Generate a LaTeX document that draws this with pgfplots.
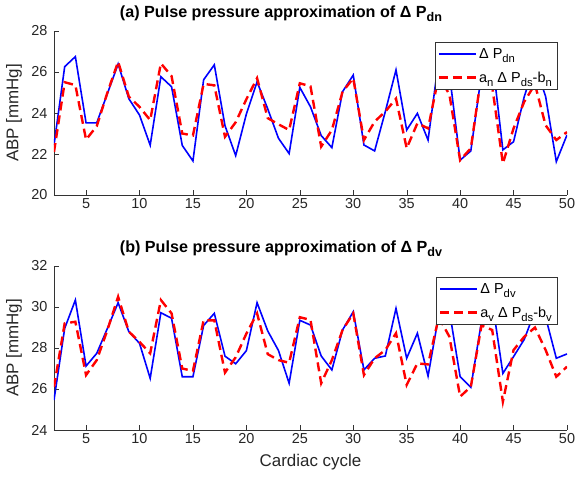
\documentclass[border=0pt]{standalone}
\usepackage{fontspec}
\setmainfont{Liberation Sans}
\usepackage{pgfplots}
\usepackage{pgfplotstable}
\pgfplotsset{compat=1.18}

\newcommand{\sub}[1]{\raisebox{-0.55ex}{\fontsize{0.78em}{1em}\selectfont #1}}

% cycle, measured, approximation
\pgfplotstableread{
n   dn     fit
2   22.43  22.10
3   26.26  25.50
4   26.75  25.36
5   23.52  22.70
6   23.52  23.36
7   24.95  25.00
8   26.39  26.50
9   24.70  24.80
10  23.90  24.30
11  22.43  23.65
12  25.77  26.42
13  25.28  25.80
14  22.42  23.00
15  21.66  22.90
16  25.62  25.42
17  26.35  25.35
18  23.38  22.84
19  21.92  23.55
20  23.95  24.67
21  25.52  25.70
22  24.20  23.75
23  22.77  23.45
24  22.02  23.17
25  25.25  25.45
26  24.30  25.30
27  22.90  22.36
28  22.31  23.17
29  25.04  25.04
30  25.85  25.69
31  22.44  22.68
32  22.15  23.58
33  24.07  24.07
34  26.10  24.70
35  23.17  22.28
36  23.98  23.50
37  22.68  23.25
38  26.60  25.80
39  25.90  24.90
40  21.70  21.70
41  22.15  22.28
42  25.90  25.90
43  26.70  25.30
44  22.20  21.54
45  22.60  23.25
46  24.80  24.55
47  26.40  25.40
48  24.80  23.40
49  21.63  22.68
50  22.93  23.07
}\tabdn

\pgfplotstableread{
n   dv     fit
2   25.46  26.10
3   28.96  29.20
4   30.34  29.28
5   27.12  26.68
6   27.74  27.41
7   28.96  28.88
8   30.21  30.50
9   28.80  28.80
10  28.23  28.30
11  26.52  27.74
12  29.72  30.34
13  29.45  29.69
14  26.60  27.00
15  26.60  26.88
16  29.10  29.35
17  29.69  29.35
18  27.60  26.80
19  27.23  27.55
20  27.87  28.70
21  30.21  29.69
22  28.83  27.70
23  27.88  27.41
24  26.28  27.28
25  29.35  29.50
26  29.12  29.37
27  27.61  26.28
28  26.93  27.41
29  28.88  28.88
30  29.77  29.69
31  26.93  26.68
32  27.50  27.50
33  27.61  27.90
34  29.93  28.72
35  27.50  26.20
36  28.72  27.25
37  26.63  27.20
38  29.60  29.50
39  29.80  28.55
40  26.60  25.63
41  26.08  26.11
42  29.30  29.10
43  30.30  28.88
44  26.76  25.38
45  27.58  27.90
46  28.42  28.55
47  29.80  29.00
48  29.50  27.90
49  27.50  26.60
50  27.71  27.09
}\tabdv

\pgfplotsset{
  abp/.style={
    width=513bp, height=164bp, scale only axis,
    xmin=2, xmax=50, xtick={5,10,...,50},
    axis x line*=bottom, axis y line*=left,
    axis line style={-, black!80},
    tick align=inside, major tick length=5bp,
    tick style={black!80},
    every tick label/.append style={font=\fontsize{14.5}{16}\selectfont, text=black!85},
    yticklabel style={xshift=-3bp},
    /pgf/number format/assume math mode=true,
    ylabel={ABP [mmHg]},
    ylabel style={at={(axis description cs:-0.078,0.5)}, anchor=center, font=\fontsize{17}{19}\selectfont, text=black!85},
    title style={at={(axis description cs:0.4425,1)}, anchor=base, yshift=8bp, font=\bfseries\fontsize{16.2}{18}\selectfont},
    legend style={at={(axis description cs:0.9805,0.933)}, anchor=north east,
      draw=black!80, fill=white, font=\fontsize{14.5}{16}\selectfont,
      inner xsep=3bp, inner ysep=4bp, row sep=8bp},
    legend cell align=left,
    legend image code/.code={\draw[##1] (0bp,0bp) -- (37bp,0bp);},
  },
  meas/.style={blue, line width=1.6bp},
  appr/.style={red, line width=2.4bp, dash pattern=on 9bp off 5bp},
}

\begin{document}
\begin{tikzpicture}
\path[use as bounding box] (-54bp,-48bp) rectangle (524bp,430bp);

\begin{axis}[abp, at={(0bp,235bp)}, anchor=south west,
  ymin=20, ymax=28, ytick={20,22,...,28},
  title={(a) Pulse pressure approximation of Δ P\sub{dn}}]
\addplot[meas] table[x=n, y=dn] {\tabdn};
\addlegendentry{Δ P\sub{dn}}
\addplot[appr] table[x=n, y=fit] {\tabdn};
\addlegendentry{a\sub{n} Δ P\sub{ds}-b\sub{n}}
\end{axis}

\begin{axis}[abp, at={(0bp,0bp)}, anchor=south west,
  ymin=24, ymax=32, ytick={24,26,...,32},
  xlabel={Cardiac cycle},
  xlabel style={at={(axis description cs:0.5,-0.195)}, anchor=center, font=\fontsize{17}{19}\selectfont, text=black!85},
  title={(b) Pulse pressure approximation of Δ P\sub{dv}}]
\addplot[meas] table[x=n, y=dv] {\tabdv};
\addlegendentry{Δ P\sub{dv}}
\addplot[appr] table[x=n, y=fit] {\tabdv};
\addlegendentry{a\sub{v} Δ P\sub{ds}-b\sub{v}}
\end{axis}
\end{tikzpicture}
\end{document}
